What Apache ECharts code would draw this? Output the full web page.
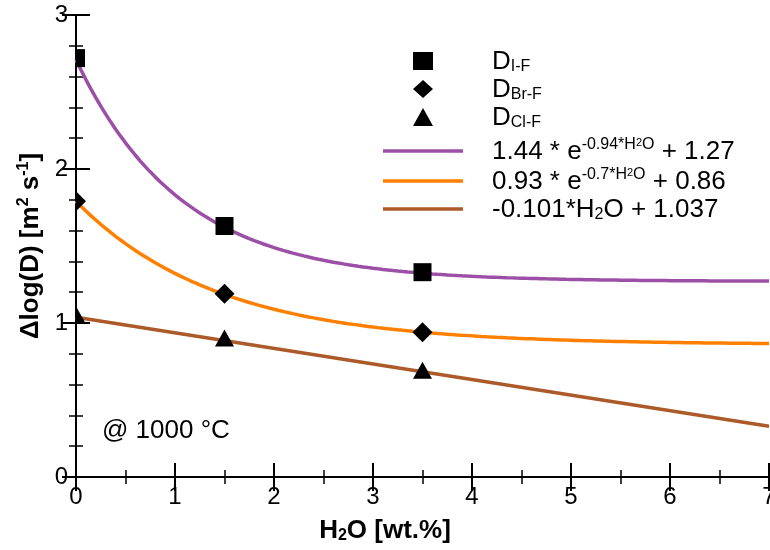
<!DOCTYPE html>
<html>
<head>
<meta charset="utf-8">
<script src="https://cdn.jsdelivr.net/npm/echarts@6/dist/echarts.min.js"></script>
<style>
  html, body { margin: 0; padding: 0; background: #fff; }
  #chart { width: 770px; height: 550px; }
</style>
</head>
<body>
<div id="chart"></div>
<script>
// Measured halogen diffusivity differences versus water content at 1000 °C
const waterContent = [0, 1.5, 3.5];
const dIF = [2.72, 1.63, 1.33];
const dBrF = [1.79, 1.19, 0.94];
const dClF = [1.05, 0.90, 0.69];

// Fit parameters as given in the legend: a * exp(b * H2O) + c, and slope/intercept
const fitIF = [1.44, -0.94, 1.27];
const fitBrF = [0.93, -0.7, 0.86];
const fitClF = [-0.101, 1.037];

const xTicks = [0, 1, 2, 3, 4, 5, 6, 7];
const yTicks = [0, 1, 2, 3];

const FONT = '"Liberation Sans", Arial, sans-serif';

function pairs(xs, ys) {
  return xs.map((x, i) => [x, ys[i]]);
}

function expCurve(p) {
  const pts = [];
  for (let i = 0; i <= 140; i++) {
    const x = i * 0.05;
    pts.push([x, p[0] * Math.exp(p[1] * x) + p[2]]);
  }
  return pts;
}

function linCurve(p) {
  return [[0, p[1]], [7, p[0] * 7 + p[1]]];
}

// Marker outlines in pixels around the projected point (clipped to the plot frame)
function markerShape(kind, c) {
  const x = c[0], y = c[1];
  if (kind === 'square') {
    return { type: 'rect', shape: { x: x - 9, y: y - 9, width: 18, height: 18 } };
  }
  if (kind === 'diamond') {
    return { type: 'polygon', shape: { points: [[x, y - 10], [x + 10, y], [x, y + 10], [x - 10, y]] } };
  }
  return { type: 'polygon', shape: { points: [[x, y - 9], [x + 9.5, y + 8], [x - 9.5, y + 8]] } };
}

function markerSeries(name, values, kind) {
  return {
    name: name,
    type: 'custom',
    coordinateSystem: 'cartesian2d',
    clip: true,
    z: 3,
    data: pairs(waterContent, values),
    itemStyle: { color: '#000' },
    renderItem: (params, api) => {
      const c = api.coord([api.value(0), api.value(1)]);
      const el = markerShape(kind, c);
      el.style = { fill: '#000' };
      return el;
    }
  };
}

const legendText = {
  'D_IF': '{m|D}{sub|I-F}',
  'D_BrF': '{m|D}{sub|Br-F}',
  'D_ClF': '{m|D}{sub|Cl-F}',
  'fit_IF': '{m|1.44 * e}{sup|-0.94*H}{ssub|2}{sup|O}{m| + 1.27}',
  'fit_BrF': '{m|0.93 * e}{sup|-0.7*H}{ssub|2}{sup|O}{m| + 0.86}',
  'fit_ClF': '{m|-0.101*H}{sub|2}{m|O + 1.037}'
};

const axisLine = { show: true, lineStyle: { color: '#000', width: 2 } };
const majorTick = { show: true, inside: true, length: 14, lineStyle: { color: '#000', width: 2 } };
const minorTick = { show: true, length: 7, lineStyle: { color: '#000', width: 1.5 } };
const tickLabel = { color: '#000', fontFamily: FONT, fontSize: 24, margin: 8 };

const chart = echarts.init(document.getElementById('chart'), null, { renderer: 'canvas' });

chart.setOption({
  animation: false,
  backgroundColor: '#fff',
  grid: { left: 76, right: 1, top: 15, bottom: 73, outerBoundsMode: 'none' },
  xAxis: [
    {
      type: 'value', min: xTicks[0], max: xTicks[xTicks.length - 1], interval: 1,
      axisLine: axisLine,
      axisTick: majorTick,
      minorTick: Object.assign({}, minorTick, { splitNumber: 2 }),
      splitLine: { show: false },
      axisLabel: tickLabel,
      name: '{b|H}{bs|2}{b|O [wt.%]}',
      nameLocation: 'middle',
      nameGap: 39,
      nameTextStyle: {
        padding: [0, 75, 0, 0],
        rich: {
          b: { fontFamily: FONT, fontWeight: 'bold', fontSize: 26, color: '#000', lineHeight: 28, verticalAlign: 'bottom' },
          bs: { fontFamily: FONT, fontWeight: 'bold', fontSize: 16, color: '#000', lineHeight: 16, verticalAlign: 'bottom' }
        }
      }
    },
    {
      type: 'value', position: 'top', min: 0, max: 7, interval: 1,
      axisLine: axisLine,
      axisTick: majorTick,
      minorTick: Object.assign({}, minorTick, { splitNumber: 2 }),
      splitLine: { show: false },
      axisLabel: { show: false }
    }
  ],
  yAxis: [
    {
      type: 'value', min: yTicks[0], max: yTicks[yTicks.length - 1], interval: 1,
      axisLine: axisLine,
      axisTick: majorTick,
      minorTick: Object.assign({}, minorTick, { splitNumber: 5 }),
      splitLine: { show: false },
      axisLabel: tickLabel,
      name: '{b|Δlog(D) [m}{bp|2}{b| s}{bp|-1}{b|]}',
      nameLocation: 'middle',
      nameGap: 32,
      nameTextStyle: {
        rich: {
          b: { fontFamily: FONT, fontWeight: 'bold', fontSize: 26, color: '#000', lineHeight: 28, verticalAlign: 'bottom' },
          bp: { fontFamily: FONT, fontWeight: 'bold', fontSize: 16, color: '#000', lineHeight: 16, verticalAlign: 'top' }
        }
      }
    },
    {
      type: 'value', position: 'right', min: 0, max: 3, interval: 1,
      axisLine: axisLine,
      axisTick: majorTick,
      minorTick: Object.assign({}, minorTick, { splitNumber: 5 }),
      splitLine: { show: false },
      axisLabel: { show: false }
    }
  ],
  legend: [
    {
      // measured-point symbols
      orient: 'vertical',
      left: 413,
      top: 49,
      padding: 0,
      itemWidth: 20,
      itemHeight: 18,
      itemGap: 2,
      selectedMode: false,
      data: [
        { name: 'D_IF', icon: 'rect' },
        { name: 'D_BrF', icon: 'diamond' },
        { name: 'D_ClF', icon: 'triangle' }
      ],
      formatter: name => legendText[name],
      textStyle: {
        padding: [0, 0, 0, 54],
        rich: {
          m: { fontFamily: FONT, fontSize: 26, color: '#000', lineHeight: 28, verticalAlign: 'bottom' },
          sub: { fontFamily: FONT, fontSize: 16, color: '#000', lineHeight: 15, verticalAlign: 'bottom' }
        }
      }
    },
    {
      // fitted curves
      orient: 'vertical',
      left: 383,
      top: 137,
      padding: 0,
      itemWidth: 80,
      itemHeight: 3.5,
      itemGap: 2,
      selectedMode: false,
      data: [
        { name: 'fit_IF', icon: 'rect' },
        { name: 'fit_BrF', icon: 'rect' },
        { name: 'fit_ClF', icon: 'rect' }
      ],
      formatter: name => legendText[name],
      textStyle: {
        padding: [0, 0, 0, 24],
        rich: {
          m: { fontFamily: FONT, fontSize: 26, color: '#000', lineHeight: 28, verticalAlign: 'bottom' },
          sub: { fontFamily: FONT, fontSize: 16, color: '#000', lineHeight: 17, verticalAlign: 'bottom' },
          sup: { fontFamily: FONT, fontSize: 16, color: '#000', lineHeight: 16, verticalAlign: 'top' },
          ssub: { fontFamily: FONT, fontSize: 11, color: '#000', lineHeight: 27, verticalAlign: 'top' }
        }
      }
    }
  ],
  graphic: [
    {
      type: 'text', left: 102, top: 418,
      style: { text: '@ 1000 °C', font: '26px ' + FONT, fill: '#000' }
    }
  ],
  series: [
    {
      name: 'fit_IF', type: 'line', data: expCurve(fitIF), showSymbol: false, symbol: 'none',
      lineStyle: { color: '#9b4fa6', width: 3.5 }, itemStyle: { color: '#9b4fa6' }, z: 2
    },
    {
      name: 'fit_BrF', type: 'line', data: expCurve(fitBrF), showSymbol: false, symbol: 'none',
      lineStyle: { color: '#ff8000', width: 3.5 }, itemStyle: { color: '#ff8000' }, z: 2
    },
    {
      name: 'fit_ClF', type: 'line', data: linCurve(fitClF), showSymbol: false, symbol: 'none',
      lineStyle: { color: '#ad5a2a', width: 3.5 }, itemStyle: { color: '#ad5a2a' }, z: 2
    },
    markerSeries('D_IF', dIF, 'square'),
    markerSeries('D_BrF', dBrF, 'diamond'),
    markerSeries('D_ClF', dClF, 'triangle')
  ]
});
</script>
</body>
</html>
